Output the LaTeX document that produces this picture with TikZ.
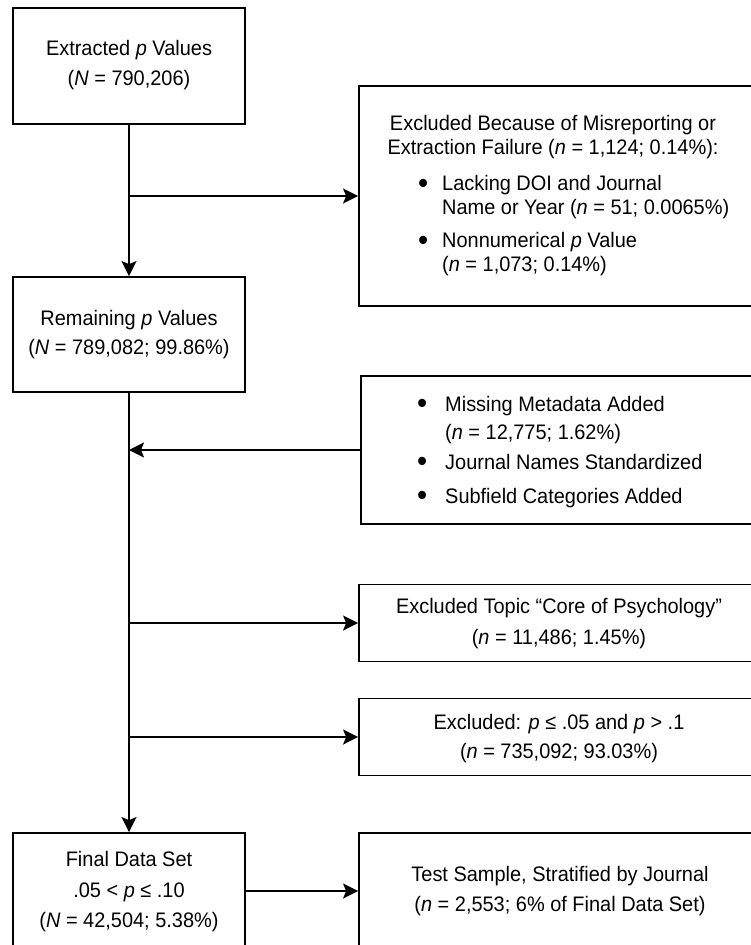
\documentclass[tikz,border=0pt]{standalone}
\usepackage{fontspec}
\usepackage{graphicx}
\setmainfont[FakeStretch=0.95]{Liberation Sans}
\usetikzlibrary{arrows.meta}
\newcommand{\bigbul}{\raisebox{-0.13em}{\scalebox{1.45}{\textbullet}}}
\begin{document}
\begin{tikzpicture}[x=1pt,y=-1pt,
  box/.style={draw, line width=1.8pt, inner sep=0pt},
  txt/.style={align=center, inner sep=0pt},
  fs/.style={font=\fontsize{21}{#1}\selectfont},
  arr/.style={-{Stealth[length=15pt,width=15pt,inset=3pt]}, line width=1.8pt}]
\useasboundingbox (0,0) rectangle (750,945);

% left column
\node[box, minimum width=232pt, minimum height=116pt] (b1) at (129,66) {};
\node[txt, fs=30] (b1t) at (129,65) {Extracted \textit{p} Values\\(\textit{N} = 790,206)};

\node[box, minimum width=232pt, minimum height=115pt] (b2) at (129,334.5) {};
\node[txt, fs=29] (b2t) at (129,335) {Remaining \textit{p} Values\\(\textit{N} = 789,082; 99.86\%)};

\node[box, minimum width=232pt, minimum height=116pt] (fin) at (129,891) {};
\node[txt, fs=30.5] (fint) at (129,892) {Final Data Set\\.05 < \textit{p} ≤ .10\\(\textit{N} = 42,504; 5.38\%)};

% right column
\node[box, minimum width=394pt, minimum height=220pt] (ex1) at (556,196) {};
\node[txt, fs=24] (ex1t) at (553,137) {Excluded Because of Misreporting or\\Extraction Failure (\textit{n} = 1,124; 0.14\%):};
\node[inner sep=0pt, anchor=west, fs=24] (ex1l) at (418,226) {\begin{tabular}{@{}p{24pt}@{}l@{}}
\bigbul & Lacking DOI and Journal\\
& Name or Year (\textit{n} = 51; 0.0065\%)\\[9pt]
\bigbul & Nonnumerical \textit{p} Value\\
& (\textit{n} = 1,073; 0.14\%)
\end{tabular}};

\node[box, minimum width=392pt, minimum height=148pt] (meta) at (557,450) {};
\node[inner sep=0pt, anchor=west, fs=28] (metal) at (417,451.5) {\begin{tabular}{@{}p{28pt}@{}l@{}}
\bigbul & Missing Metadata Added\\
& (\textit{n} = 12,775; 1.62\%)\\[2pt]
\bigbul & Journal Names Standardized\\[6pt]
\bigbul & Subfield Categories Added
\end{tabular}};

\node[box, minimum width=394pt, minimum height=77pt] (core) at (556,623) {};
\node[txt, fs=31] (coret) at (559,623.5) {Excluded Topic “Core of Psychology”\\(\textit{n} = 11,486; 1.45\%)};

\node[box, minimum width=394pt, minimum height=77pt] (exp) at (556,737) {};
\node[txt, fs=29.5] (expt) at (559,738.5) {Excluded: \textit{p} ≤ .05 and \textit{p} > .1\\(\textit{n} = 735,092; 93.03\%)};

\node[box, minimum width=394pt, minimum height=116pt] (test) at (556,891) {};
\node[txt, fs=30] (testt) at (560,891) {Test Sample, Stratified by Journal\\(\textit{n} = 2,553; 6\% of Final Data Set)};

% connectors
\draw[arr] (b1.south) -- (b2.north);
\draw[arr] (b1.south |- ex1.west) -- (ex1.west);
\draw[arr] (b2.south) -- (fin.north);
\draw[arr] (meta.west) -- (meta.west -| b2.south);
\draw[arr] (b2.south |- core.west) -- (core.west);
\draw[arr] (b2.south |- exp.west) -- (exp.west);
\draw[arr] (fin.east) -- (test.west);
\end{tikzpicture}
\end{document}
